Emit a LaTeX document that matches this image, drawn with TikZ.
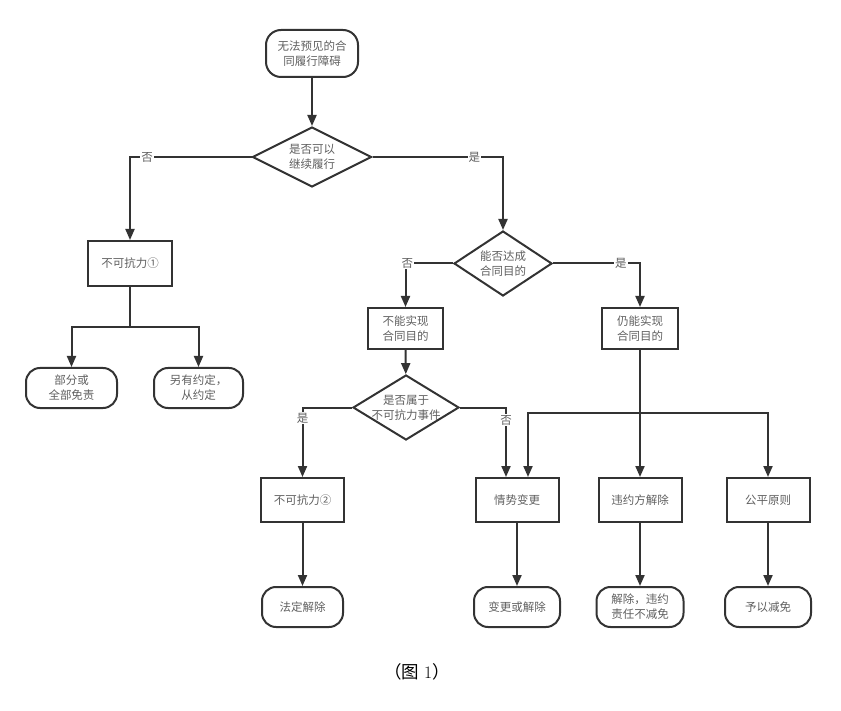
\documentclass[tikz,border=0pt]{standalone}
\usepackage{fontspec}
\setmainfont{Noto Sans CJK SC}
\usetikzlibrary{shapes.geometric,arrows.meta,calc}
\definecolor{linec}{RGB}{51,51,51}
\definecolor{textc}{RGB}{95,95,95}
\tikzset{
  base/.style={draw=linec,line width=2pt,text=textc,font=\fontsize{11.5}{15}\selectfont,align=center,inner sep=0pt},
  procbox/.style={base,rectangle,minimum width=83pt,minimum height=44pt},
  termbox/.style={base,rectangle,rounded corners=14pt,minimum width=88pt,minimum height=40pt},
  decision/.style={base,diamond,aspect=1.8},
  conn/.style={draw=linec,line width=2pt},
  arr/.style={conn,-{Triangle[length=11pt,width=9pt]}},
  lab/.style={fill=white,text=textc,font=\fontsize{11.5}{14}\selectfont,inner sep=1pt}
}
\begin{document}
\begin{tikzpicture}[x=1pt,y=-1pt]
\useasboundingbox (0,0) rectangle (841,711);
% nodes
\node[termbox,minimum width=92pt,minimum height=47pt,rounded corners=15pt] (start) at (312,53.5) {无法预见的合\\同履行障碍};
\node[decision,minimum width=119pt,minimum height=60pt] (d1) at (312,157) {是否可以\\继续履行};
\node[procbox,minimum width=84pt,minimum height=45pt] (b1) at (130,263.5) {不可抗力①};
\node[termbox,minimum width=91pt] (t1) at (71.5,388) {部分或\\全部免责};
\node[termbox,minimum width=89pt] (t2) at (198.5,388) {另有约定，\\从约定};
\node[decision,minimum width=98pt,minimum height=65pt] (d2) at (503,263.5) {能否达成\\合同目的};
\node[procbox,minimum width=75pt,minimum height=41pt] (b2) at (405.5,328.5) {不能实现\\合同目的};
\node[procbox,minimum width=76pt,minimum height=41pt] (b3) at (640,328.5) {仍能实现\\合同目的};
\node[base,diamond,minimum width=106pt,minimum height=65pt,
  label={[text=textc,font=\fontsize{11.5}{15}\selectfont,align=center]center:是否属于\\不可抗力事件}] (d3) at (406,407.5) {};
\node[procbox] (b4) at (302.5,500) {不可抗力②};
\node[procbox] (b5) at (517,500) {情势变更};
\node[procbox] (b6) at (640,500) {违约方解除};
\node[procbox] (b7) at (768,500) {公平原则};
\node[termbox,minimum width=81pt] (t3) at (302.5,607) {法定解除};
\node[termbox,minimum width=86pt] (t4) at (517,607) {变更或解除};
\node[termbox,minimum width=87pt] (t5) at (640,607) {解除，违约\\责任不减免};
\node[termbox,minimum width=86pt] (t6) at (768,607) {予以减免};
\node[text=black,font=\fontsize{17.5}{20}\selectfont,inner sep=0pt] (cap) at (417,672) {（图\hspace{5pt}{\fontspec{Latin Modern Roman}1}）};
% junctions
\coordinate (k) at (130,327);
\coordinate (j) at (640,413);
\coordinate (b5l) at ($(b5.north)+(-11,0)$);
\coordinate (b5r) at ($(b5.north)+(11,0)$);
% connectors
\draw[arr] (start) -- (d1);
\draw[arr] (d1.west) -| node[lab,pos=0.43]{否} (b1.north);
\draw[arr] (d1.east) -| node[lab,pos=0.39]{是} (d2.north);
\draw[arr] (d2.west) -| node[lab,pos=0.48]{否} (b2.north);
\draw[arr] (d2.east) -| node[lab,pos=0.39]{是} (b3.north);
\draw[conn] (b1.south) -- (k);
\draw[arr] (k) -| (t1.north);
\draw[arr] (k) -| (t2.north);
\draw[arr] (b2) -- (d3);
\draw[arr] (d3.west) -| node[lab,pos=0.575]{是} (b4.north);
\draw[arr] (d3.east) -| node[lab,pos=0.59]{否} (b5l);
\draw[arr] (b3) -- (b6);
\draw[arr] (j) -| (b5r);
\draw[arr] (j) -| (b7.north);
\draw[arr] (b4) -- (t3);
\draw[arr] (b5) -- (t4);
\draw[arr] (b6) -- (t5);
\draw[arr] (b7) -- (t6);
\end{tikzpicture}
\end{document}
